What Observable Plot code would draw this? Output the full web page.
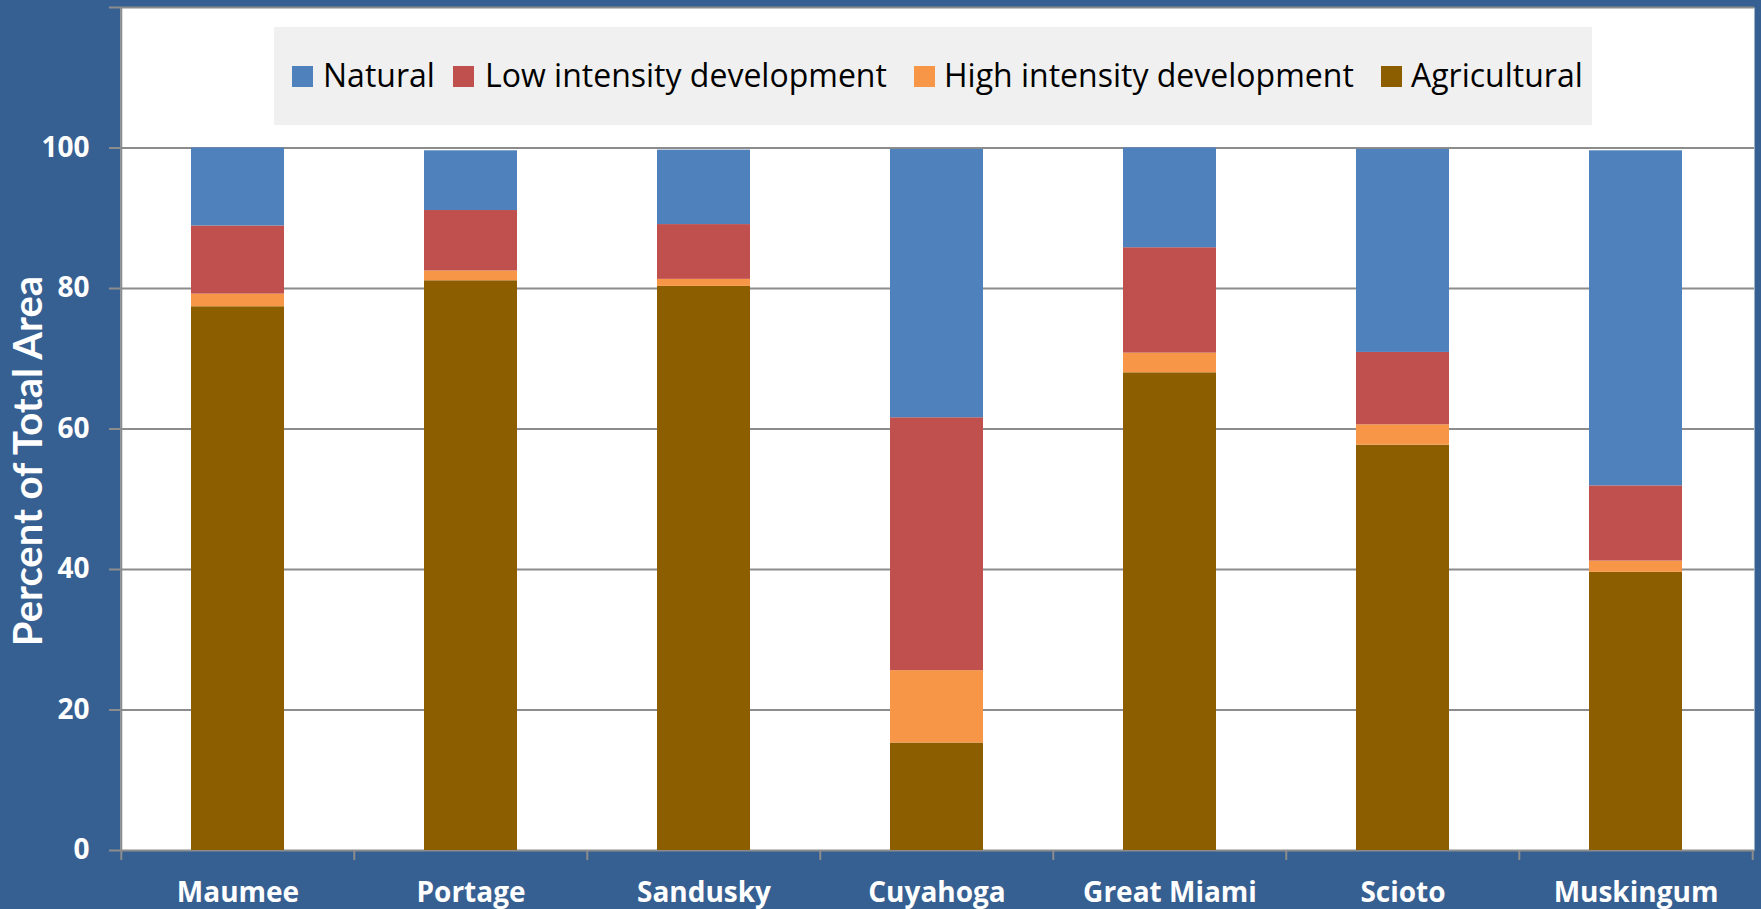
<!DOCTYPE html>
<html>
<head>
<meta charset="utf-8">
<script src="https://cdn.jsdelivr.net/npm/d3@7"></script>
<script src="https://cdn.jsdelivr.net/npm/@observablehq/plot@0.6"></script>
<style>
  html, body { margin: 0; padding: 0; background: #376092; }
  #wrap { position: relative; width: 1761px; height: 909px; overflow: hidden; background: #376092; }
  #wrap svg { position: absolute; left: 0; top: 0; }
  #legend { position: absolute; left: 274px; top: 27px; width: 1318px; height: 98px; background: #f0f0f0; }
  .sw { position: absolute; width: 21px; height: 21px; top: 39px; }
  .lt { position: absolute; top: 31.6px; font: 32px/32px "Open Sans", sans-serif; color: #000; white-space: nowrap; }
</style>
</head>
<body>
<div id="wrap"></div>
<script>
// ---- data ----
const basins = ["Maumee", "Portage", "Sandusky", "Cuyahoga", "Great Miami", "Scioto", "Muskingum"];
const seriesNames = ["Natural", "Low intensity development", "High intensity development", "Agricultural"];
const seriesColors = ["#4f81bd", "#c0504d", "#f79646", "#8c5e00"];
const agricultural = [77.4, 81.1, 80.3, 15.3, 68.0, 57.7, 39.6];
const highIntensity = [1.8, 1.4, 1.0, 10.3, 2.8, 2.9, 1.6];
const lowIntensity = [9.7, 8.6, 7.8, 36.0, 15.0, 10.3, 10.7];
const natural = [11.1, 8.5, 10.6, 38.2, 14.2, 28.9, 47.7];
const yTickValues = [0, 20, 40, 60, 80, 100];
const yGridValues = [0, 20, 40, 60, 80, 100, 120];
const yTitle = "Percent of Total Area";

// ---- table (stack order bottom -> top) ----
const rows = [];
basins.forEach((b, i) => {
  rows.push({basin: b, type: "Agricultural", value: agricultural[i]});
  rows.push({basin: b, type: "High intensity development", value: highIntensity[i]});
  rows.push({basin: b, type: "Low intensity development", value: lowIntensity[i]});
  rows.push({basin: b, type: "Natural", value: natural[i]});
});

const W = 1761, H = 909, mL = 120, mR = 7, mT = 7, mB = 59;
const step = (W - mL - mR) / basins.length;
const gridColor = "#8c8c8c";

const chart = Plot.plot({
  width: W,
  height: H,
  marginLeft: mL,
  marginRight: mR,
  marginTop: mT,
  marginBottom: mB,
  style: {background: "#376092", fontFamily: "'Open Sans', sans-serif"},
  x: {domain: basins, paddingInner: 0.6, paddingOuter: 0.3, axis: null},
  y: {domain: [0, 120], axis: null},
  color: {domain: seriesNames, range: seriesColors},
  marks: [
    Plot.frame({fill: "white", stroke: null}),
    Plot.ruleY(yGridValues, {y: d => d, stroke: gridColor, strokeWidth: 2, insetLeft: -11}),
    Plot.barY(rows, Plot.stackY({x: "basin", y: "value", fill: "type", order: null})),
    // left axis line
    Plot.ruleX([basins[0]], {x: d => d, dx: -step / 2, y1: 0, y2: 120, stroke: gridColor, strokeWidth: 2}),
    // category boundary ticks below axis
    Plot.ruleX(basins, {x: d => d, dx: -step / 2, y1: 0, y2: 0, insetBottom: -10, stroke: gridColor, strokeWidth: 2}),
    Plot.ruleX([basins[basins.length - 1]], {x: d => d, dx: step / 2, y1: 0, y2: 0, insetBottom: -10, stroke: gridColor, strokeWidth: 2}),
    Plot.axisX({tickSize: 0, tickPadding: 32, fontSize: 28, fontWeight: "bold", fill: "white", label: null, fontFamily: "'Open Sans', sans-serif"}),
    Plot.axisY(yTickValues, {tickSize: 0, tickPadding: 31, fontSize: 28, fontWeight: "bold", fill: "white", label: null, fontFamily: "'Open Sans', sans-serif"}),
    Plot.text([yTitle], {frameAnchor: "left", textAnchor: "middle", dx: -91, dy: 32, rotate: -90, text: d => d, fontSize: 40, fontWeight: "bold", fill: "white", fontFamily: "Lato, sans-serif"})
  ]
});

const wrap = document.getElementById("wrap");
wrap.appendChild(chart);

// ---- legend ----
const legend = document.createElement("div");
legend.id = "legend";
const swX = [18, 179, 640, 1107];
const txX = [49, 211, 670, 1137];
seriesNames.forEach((name, i) => {
  const sw = document.createElement("div");
  sw.className = "sw";
  sw.style.left = swX[i] + "px";
  sw.style.background = seriesColors[i];
  legend.appendChild(sw);
  const t = document.createElement("div");
  t.className = "lt";
  t.style.left = txX[i] + "px";
  t.textContent = name;
  legend.appendChild(t);
});
wrap.appendChild(legend);
</script>
</body>
</html>
